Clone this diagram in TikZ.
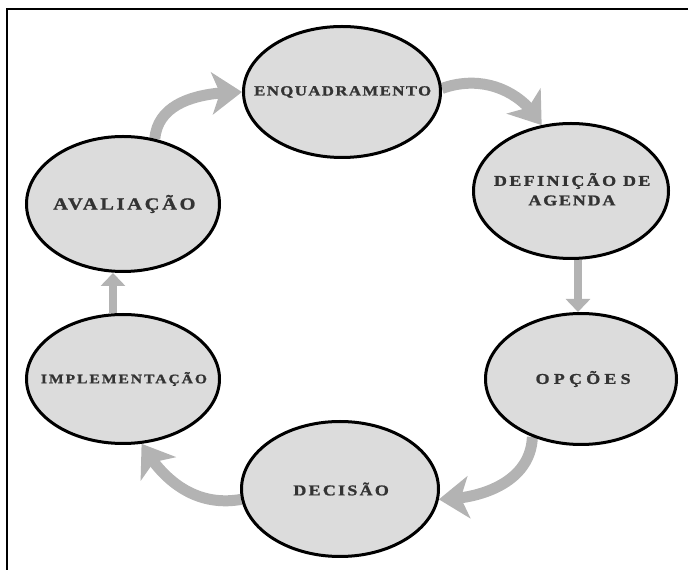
\documentclass[tikz,border=0pt]{standalone}
\usepackage{fontspec}
\setmainfont{Liberation Serif}
\usetikzlibrary{arrows.meta,bending,shapes.geometric,backgrounds}
\definecolor{ellfill}{HTML}{DCDCDC}
\definecolor{arrgrey}{HTML}{B3B3B3}
\definecolor{txtgrey}{HTML}{333333}
% size, letterspace (percent of size), text
\newcommand{\spacedtext}[3]{{\fontsize{#1}{#1}\selectfont\addfontfeatures{FakeStretch=1.2,FakeBold=1.2,LetterSpace=#2}\kern\dimexpr #1pt*#2/100\relax #3}}
\newcommand{\zw}[1]{\makebox[0pt][c]{#1}}
\tikzset{
  stage/.style={ellipse, draw=black, line width=3pt, fill=ellfill, inner sep=0pt,
    text=txtgrey, font=\bfseries},
  flow/.style={draw=arrgrey, line width=11pt,
    -{Stealth[length=30pt,width=42pt,inset=8pt]}},
  flowsmall/.style={draw=arrgrey, line width=8pt,
    -{Triangle[length=13pt,width=24pt]}},
}
\begin{document}
\begin{tikzpicture}[x=1pt,y=1pt]
\useasboundingbox (0,0) rectangle (688,570);
\draw[line width=1.3pt] (688,561) -- (7,561) -- (7,0);

\node[stage, minimum width=197pt, minimum height=131pt] (enq) at (342,478)
  {\zw{\spacedtext{14}{10}{ENQUADRAMENTO}}};
\node[stage, minimum width=193pt, minimum height=135pt] (aval) at (123,366)
  {\zw{\spacedtext{17}{16}{AVALIAÇÃO}}};
\node[stage, minimum width=195pt, minimum height=135pt] (def) at (571,379)
  {\zw{\raisebox{5pt}{\begin{tabular}{@{}c@{}}\spacedtext{15}{16}{DEFINIÇÃO DE}\\[6pt]\spacedtext{15}{12}{AGENDA}\end{tabular}}}};
\node[stage, minimum width=193pt, minimum height=129pt] (impl) at (123,191)
  {\zw{\spacedtext{13}{15}{IMPLEMENTAÇÃO}}};
\node[stage, minimum width=191pt, minimum height=131pt] (opc) at (581,191)
  {\zw{\spacedtext{15}{28}{OPÇÕES}}};
\node[stage, minimum width=197pt, minimum height=135pt] (dec) at (340,81)
  {\zw{\spacedtext{15}{15}{DECISÃO}}};

\begin{scope}[on background layer]
  \draw[flow] (aval.64) to[out=85,in=180] (enq.180);
  \draw[flow] (enq.2) to[out=20,in=120] (def.114);
  \draw[flowsmall] ([xshift=7pt]def.south) -- ([xshift=7pt]def.south |- opc.north);
  \draw[flow] (opc.230) to[out=-92,in=0] (dec.-6);
  \draw[flow] (dec.186) to[out=190,in=-60] (impl.-74);
  \draw[flowsmall] ([xshift=-10pt]impl.north) -- ([xshift=-10pt]impl.north |- aval.south);
\end{scope}
\end{tikzpicture}
\end{document}
